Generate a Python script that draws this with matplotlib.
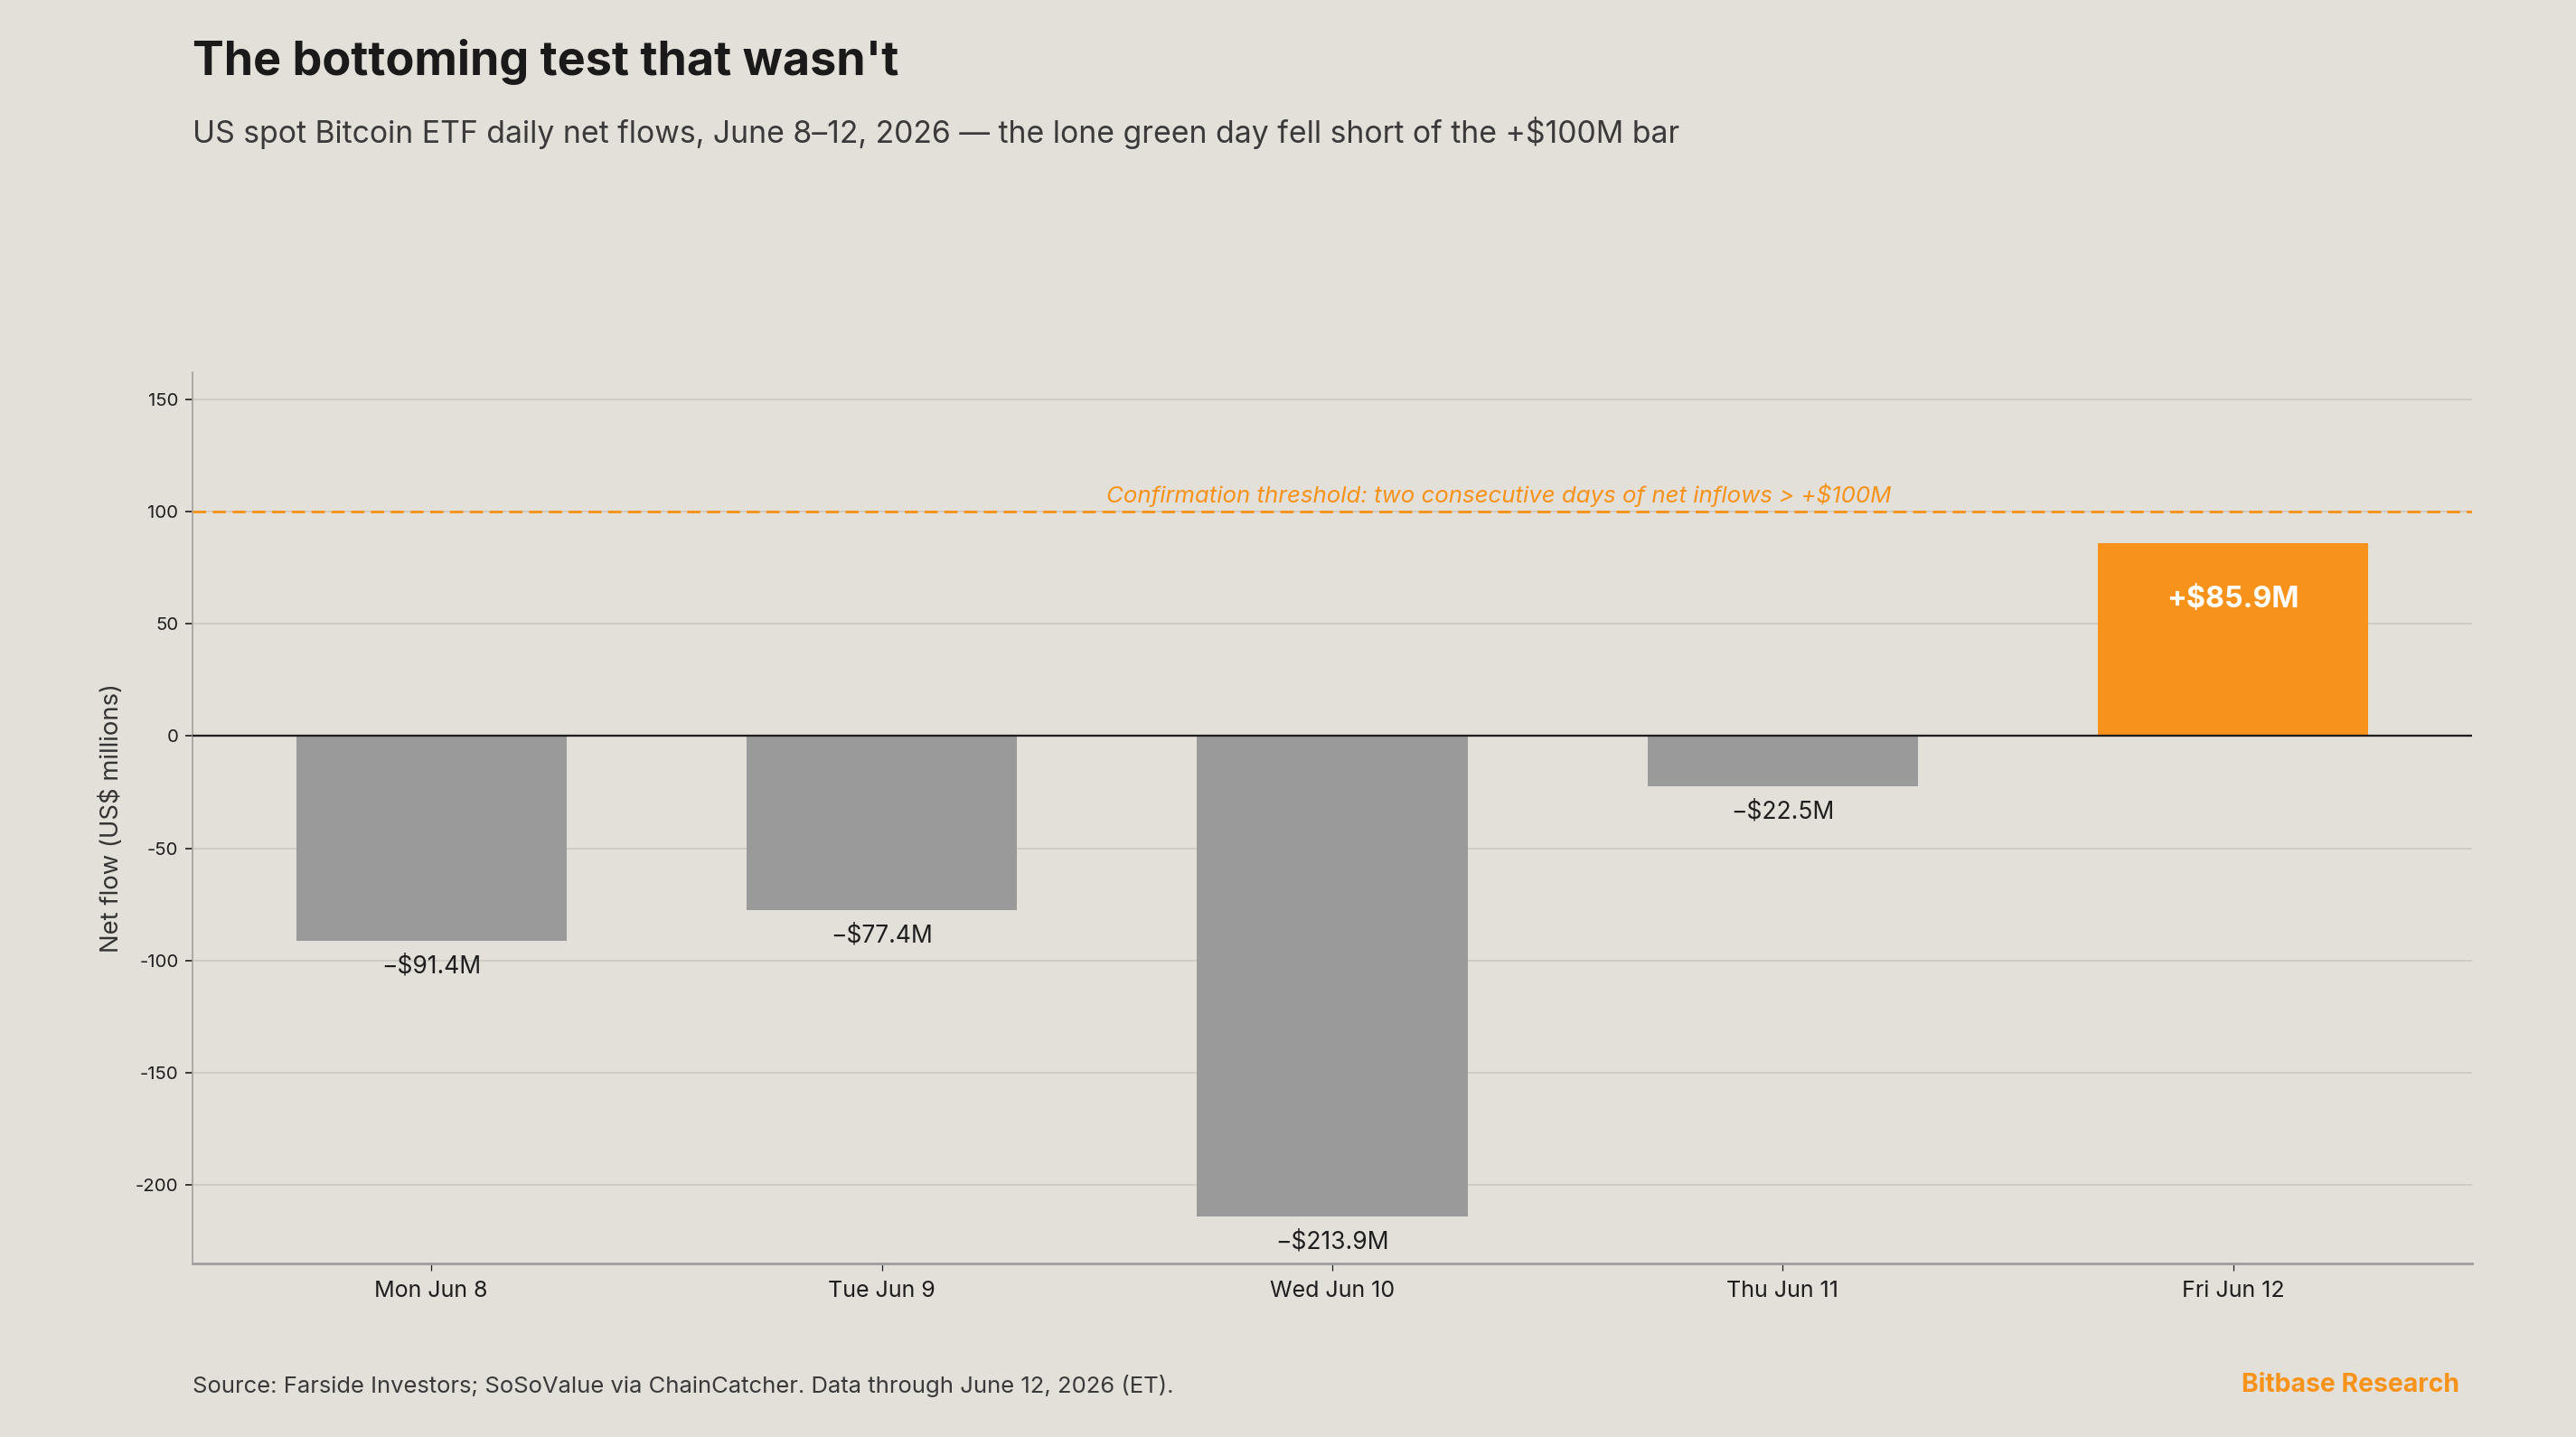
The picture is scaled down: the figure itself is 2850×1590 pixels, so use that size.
import matplotlib
matplotlib.use("Agg")
import matplotlib.pyplot as plt

# daily net flows, US$ millions
days = ["Mon Jun 8", "Tue Jun 9", "Wed Jun 10", "Thu Jun 11", "Fri Jun 12"]
flows = [-91.4, -77.4, -213.9, -22.5, 85.9]
threshold = 100
yticks = [-200, -150, -100, -50, 0, 50, 100, 150]

BG = "#E3DFD9"
ORANGE = "#F7931A"
GREY = "#9A9A9A"
DARK = "#1E1E1E"

plt.rcParams['font.family'] = ['Inter', 'DejaVu Sans']
plt.rcParams['axes.unicode_minus'] = False

W, H, DPI = 2850, 1590, 150
fig = plt.figure(figsize=(W / DPI, H / DPI), dpi=DPI, facecolor=BG)

# axes box in pixel coords
left, right, top, bottom = 213, 2735, 412, 1398
ax = fig.add_axes([left / W, 1 - bottom / H, (right - left) / W, (bottom - top) / H])
ax.set_facecolor(BG)

x = list(range(len(days)))
colors = [ORANGE if v > 0 else GREY for v in flows]
ax.bar(x, flows, width=0.6, color=colors, zorder=3)

ax.set_xlim(-0.53, len(days) - 0.47)
ax.set_ylim(-235, 162)
ax.set_yticks(yticks)
ax.set_xticks(x)
ax.set_xticklabels(days, fontsize=12, color=DARK)
ax.tick_params(axis='y', labelsize=9.8, colors=DARK, length=4, width=0.8)
ax.tick_params(axis='x', length=4, width=0.6, pad=5, colors=DARK)

ax.grid(axis='y', color="#CFCAC3", linewidth=0.9, zorder=0)
ax.set_axisbelow(True)
ax.axhline(0, color=DARK, linewidth=1.1, zorder=4)

for s in ["top", "right"]:
    ax.spines[s].set_visible(False)
ax.spines["left"].set_color("#A0A0A0")
ax.spines["left"].set_linewidth(0.8)
ax.spines["bottom"].set_color("#A0A0A0")
ax.spines["bottom"].set_linewidth(1.4)

ax.set_ylabel("Net flow (US$ millions)", fontsize=13.2, color="#333333", labelpad=6)

# threshold line
ax.axhline(threshold, color=ORANGE, linewidth=1.4, linestyle=(0, (5, 2.5)), zorder=5)
ax.text(2.37, threshold + 2.2, "Confirmation threshold: two consecutive days of net inflows > +$100M",
        ha='center', va='bottom', fontsize=12.4, style='italic', color=ORANGE)

# value labels
for xi, v in zip(x, flows):
    if v < 0:
        ax.annotate("−${:.1f}M".format(abs(v)), (xi, v), xytext=(0, -7.5), textcoords='offset points',
                    ha='center', va='top', fontsize=12.7, color=DARK)
    else:
        ax.annotate("+${:.1f}M".format(v), (xi, v), xytext=(0, -30), textcoords='offset points',
                    ha='center', va='center', fontsize=15.5, fontweight='bold', color='white', zorder=6)

fig.text(left / W, 1 - 69 / H, "The bottoming test that wasn't", fontsize=25, fontweight='bold',
         color="#1A1A1A", ha='left', va='center')
fig.text(left / W, 1 - 147 / H,
         "US spot Bitcoin ETF daily net flows, June 8–12, 2026 — the lone green day fell short of the +$100M bar",
         fontsize=16.2, color="#3A3A3A", ha='left', va='center')
fig.text(left / W, 1 - 1533 / H,
         "Source: Farside Investors; SoSoValue via ChainCatcher. Data through June 12, 2026 (ET).",
         fontsize=12.3, color="#3A3A3A", ha='left', va='center')
fig.text(2721 / W, 1 - 1533 / H, "Bitbase Research", fontsize=13.6, fontweight='bold',
         color=ORANGE, ha='right', va='center')

fig.savefig("out.png", dpi=DPI, facecolor=BG)
